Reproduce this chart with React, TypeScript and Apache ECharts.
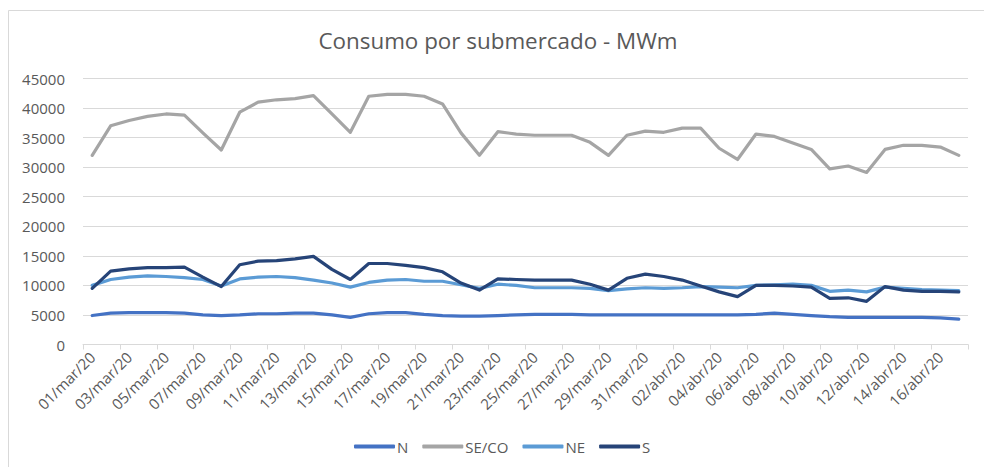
import React, { useEffect, useRef } from "react";
import * as echarts from "echarts";

const categories = [
  "01/mar/20", "02/mar/20", "03/mar/20", "04/mar/20", "05/mar/20", "06/mar/20", "07/mar/20", "08/mar/20",
  "09/mar/20", "10/mar/20", "11/mar/20", "12/mar/20", "13/mar/20", "14/mar/20", "15/mar/20", "16/mar/20",
  "17/mar/20", "18/mar/20", "19/mar/20", "20/mar/20", "21/mar/20", "22/mar/20", "23/mar/20", "24/mar/20",
  "25/mar/20", "26/mar/20", "27/mar/20", "28/mar/20", "29/mar/20", "30/mar/20", "31/mar/20", "01/abr/20",
  "02/abr/20", "03/abr/20", "04/abr/20", "05/abr/20", "06/abr/20", "07/abr/20", "08/abr/20", "09/abr/20",
  "10/abr/20", "11/abr/20", "12/abr/20", "13/abr/20", "14/abr/20", "15/abr/20", "16/abr/20", "17/abr/20",
];

const seriesN = [
  4900, 5300, 5400, 5400, 5400, 5300, 5000, 4900, 5000, 5200, 5200, 5300, 5300, 5000, 4600, 5200,
  5400, 5400, 5100, 4900, 4800, 4800, 4900, 5000, 5100, 5100, 5100, 5000, 5000, 5000, 5000, 5000,
  5000, 5000, 5000, 5000, 5100, 5300, 5100, 4900, 4700, 4600, 4600, 4600, 4600, 4600, 4500, 4300,
];

const seriesSECO = [
  32000, 37000, 37900, 38600, 39000, 38800, 35800, 32900, 39300, 41000, 41400, 41600, 42100, 39000, 35900, 42000,
  42300, 42300, 42000, 40700, 35800, 32000, 36000, 35600, 35400, 35400, 35400, 34200, 32000, 35400, 36100, 35900,
  36600, 36600, 33200, 31300, 35600, 35200, 34100, 33000, 29700, 30200, 29100, 33000, 33700, 33700, 33400, 32000,
];

const seriesNE = [
  10000, 11000, 11400, 11600, 11500, 11300, 11000, 9900, 11100, 11400, 11500, 11300, 10900, 10400, 9700, 10500,
  10900, 11000, 10700, 10700, 10100, 9500, 10200, 10000, 9600, 9600, 9600, 9500, 9100, 9400, 9600, 9500,
  9600, 9800, 9700, 9600, 10000, 10100, 10200, 10000, 9000, 9200, 8900, 9700, 9500, 9300, 9200, 9100,
];

const seriesS = [
  9500, 12400, 12800, 13000, 13000, 13100, 11400, 9800, 13500, 14100, 14200, 14500, 14900, 12700, 11000, 13700,
  13700, 13400, 13000, 12300, 10400, 9200, 11100, 11000, 10900, 10900, 10900, 10200, 9200, 11200, 11900, 11500,
  10900, 9900, 8900, 8100, 10000, 10000, 9900, 9700, 7800, 7900, 7300, 9800, 9200, 9000, 9000, 8900,
];

const seriesNames = ["N", "SE/CO", "NE", "S"];
const seriesData = [seriesN, seriesSECO, seriesNE, seriesS];
const seriesColors = ["#4472C4", "#A5A5A5", "#5B9BD5", "#264478"];

const FONT = "'Open Sans', sans-serif";
const TEXT_COLOR = "#595959";

export default function App() {
  const ref = useRef<HTMLDivElement>(null);

  useEffect(() => {
    if (!ref.current) return;
    const chart = echarts.init(ref.current, null, { renderer: "svg" });
    chart.setOption({
      animation: false,
      backgroundColor: "#ffffff",
      textStyle: { fontFamily: FONT },
      graphic: [
        {
          type: "rect",
          silent: true,
          z: -10,
          shape: { x: 8.5, y: 10.5, width: 1000, height: 1000 },
          style: { fill: "none", stroke: "#d9d9d9", lineWidth: 1 },
        },
        {
          type: "text",
          x: 498,
          y: 40,
          style: {
            text: "Consumo por submercado - MWm",
            fontFamily: FONT,
            fontSize: 22.4,
            fill: TEXT_COLOR,
            textAlign: "center",
            textVerticalAlign: "middle",
          },
        },
      ],
      legend: {
        left: 354,
        top: 439,
        padding: 0,
        icon: "roundRect",
        itemWidth: 41,
        itemHeight: 4,
        itemGap: 14,
        textStyle: { fontFamily: FONT, fontSize: 15, color: TEXT_COLOR, padding: [0, 0, 0, -3] },
        data: seriesNames,
      },
      grid: { left: 83, right: 16, top: 78.5, bottom: 122.5, containLabel: false },
      xAxis: {
        type: "category",
        data: categories,
        boundaryGap: true,
        axisLine: { show: true, lineStyle: { color: "#d9d9d9", width: 1 } },
        axisTick: { show: true, interval: 1, length: 5, lineStyle: { color: "#d9d9d9" } },
        axisLabel: {
          interval: 1,
          rotate: 45,
          margin: 10,
          fontFamily: FONT,
          fontSize: 15,
          color: TEXT_COLOR,
        },
        splitLine: { show: false },
      },
      yAxis: {
        type: "value",
        min: 0,
        max: 45000,
        interval: 5000,
        axisLine: { show: false },
        axisTick: { show: false },
        axisLabel: {
          margin: 18,
          fontFamily: FONT,
          fontSize: 15,
          color: TEXT_COLOR,
          formatter: (v: number) => String(v),
        },
        splitLine: { lineStyle: { color: "#d9d9d9", width: 1 } },
      },
      series: seriesNames.map((name, i) => ({
        name,
        type: "line",
        data: seriesData[i],
        symbol: "none",
        color: seriesColors[i],
        lineStyle: { width: 3.2, color: seriesColors[i], cap: "round", join: "round" },
      })),
    });
    return () => chart.dispose();
  }, []);

  return (
    <div
      ref={ref}
      style={{ position: "fixed", left: 0, top: 0, width: 984, height: 467, background: "#fff" }}
    />
  );
}
